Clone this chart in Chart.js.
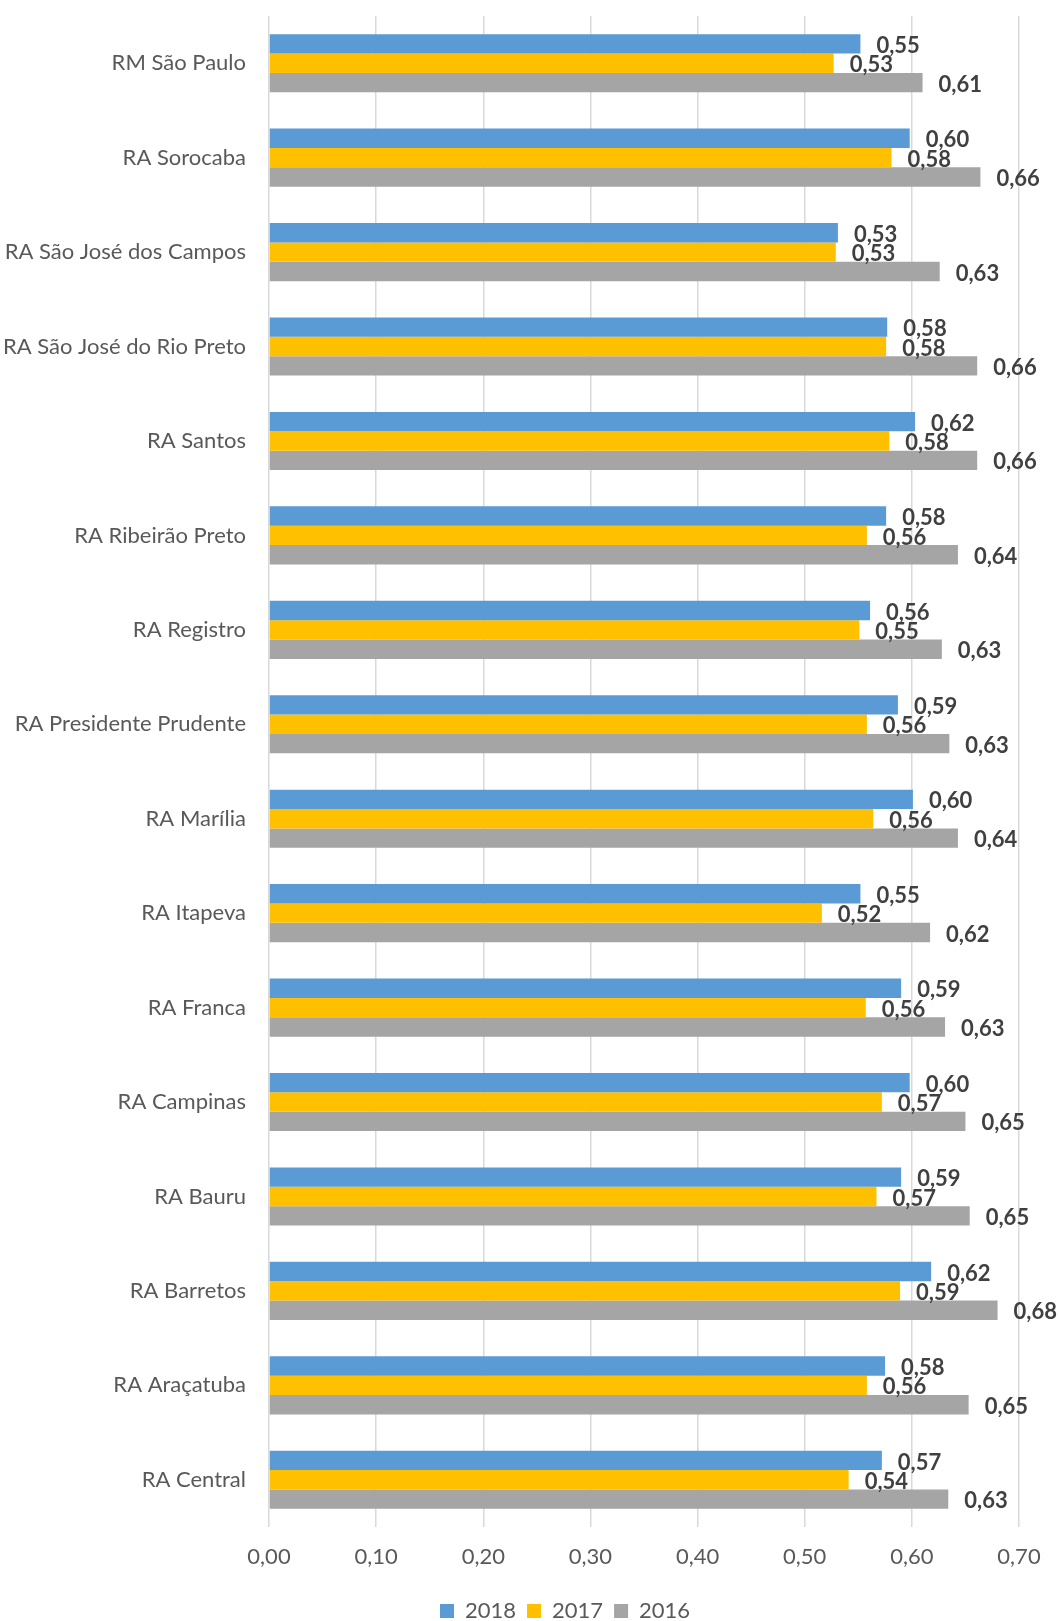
<!DOCTYPE html>
<html>
<head>
<meta charset="utf-8">
<script src="https://cdn.jsdelivr.net/npm/chart.js@4"></script>
<style>
  html, body { margin: 0; padding: 0; background: #ffffff; }
  #wrap { width: 1058px; height: 1621px; position: relative; }
</style>
</head>
<body>
<div id="wrap"><canvas id="c" width="1058" height="1621"></canvas></div>
<script>
const categories = [
  "RM São Paulo", "RA Sorocaba", "RA São José dos Campos", "RA São José do Rio Preto",
  "RA Santos", "RA Ribeirão Preto", "RA Registro", "RA Presidente Prudente",
  "RA Marília", "RA Itapeva", "RA Franca", "RA Campinas",
  "RA Bauru", "RA Barretos", "RA Araçatuba", "RA Central"
];
const seriesNames = ["2018", "2017", "2016"];
const values2018 = [0.552, 0.598, 0.531, 0.577, 0.603, 0.576, 0.561, 0.587, 0.601, 0.552, 0.590, 0.598, 0.590, 0.618, 0.575, 0.572];
const values2017 = [0.527, 0.581, 0.529, 0.576, 0.579, 0.558, 0.551, 0.558, 0.564, 0.516, 0.557, 0.572, 0.567, 0.589, 0.558, 0.541];
const values2016 = [0.610, 0.664, 0.626, 0.661, 0.661, 0.643, 0.628, 0.635, 0.643, 0.617, 0.631, 0.650, 0.654, 0.680, 0.653, 0.634];
const labels2018 = ["0,55","0,60","0,53","0,58","0,62","0,58","0,56","0,59","0,60","0,55","0,59","0,60","0,59","0,62","0,58","0,57"];
const labels2017 = ["0,53","0,58","0,53","0,58","0,58","0,56","0,55","0,56","0,56","0,52","0,56","0,57","0,57","0,59","0,56","0,54"];
const labels2016 = ["0,61","0,66","0,63","0,66","0,66","0,64","0,63","0,63","0,64","0,62","0,63","0,65","0,65","0,68","0,65","0,63"];
const xTicks = [0, 0.1, 0.2, 0.3, 0.4, 0.5, 0.6, 0.7];

const FONT = "Lato, 'Open Sans', sans-serif";
const colors = ["#5B9BD5", "#FFC000", "#A5A5A5"];
const valueSets = [values2018, values2017, values2016];
const labelSets = [labels2018, labels2017, labels2016];
const LEGEND_PAD = 11;

const dataLabelPlugin = {
  id: "dataLabels",
  afterDatasetsDraw(chart) {
    const ctx = chart.ctx;
    ctx.save();
    ctx.font = "bold 22px " + FONT;
    ctx.fillStyle = "#404040";
    ctx.textAlign = "left";
    ctx.textBaseline = "middle";
    chart.data.datasets.forEach((ds, di) => {
      const meta = chart.getDatasetMeta(di);
      meta.data.forEach((bar, i) => {
        ctx.fillText(labelSets[di][i], bar.x + 16, bar.y + 2);
      });
    });
    ctx.restore();
  }
};

const legendPlace = {
  id: "legendPlace",
  afterLayout(chart) {
    const l = chart.legend;
    if (!l) return;
    const h = l.height;
    l.top = 1611 - LEGEND_PAD - 11;
    l.bottom = l.top + h;
    l.left = 440 - LEGEND_PAD;
    l.right = 1058;
  }
};

new Chart(document.getElementById("c"), {
  type: "bar",
  data: {
    labels: categories,
    datasets: seriesNames.map((n, i) => ({
      label: n,
      data: valueSets[i],
      backgroundColor: colors[i],
      borderWidth: 0,
      barPercentage: 1.0,
      categoryPercentage: 0.615
    }))
  },
  options: {
    indexAxis: "y",
    responsive: false,
    animation: false,
    devicePixelRatio: 1,
    layout: { padding: { top: 16, right: 39, bottom: 0, left: 0 } },
    plugins: {
      legend: {
        position: "bottom",
        align: "start",
        labels: {
          boxWidth: 14, boxHeight: 14, padding: LEGEND_PAD,
          color: "#595959",
          font: { family: FONT, size: 22 }
        }
      },
      tooltip: { enabled: false }
    },
    scales: {
      x: {
        min: 0, max: 0.7,
        afterBuildTicks(scale) { scale.ticks = xTicks.map(v => ({ value: v })); },
        afterFit(scale) {
          const lh = scale.chart.legend ? scale.chart.legend.height : 0;
          scale.height = 1621 - 1527 - lh;
        },
        grid: { color: "#d9d9d9", lineWidth: 1.5, drawTicks: false },
        border: { display: false },
        ticks: {
          padding: 17,
          color: "#595959",
          font: { family: FONT, size: 22 },
          callback: v => Number(v).toFixed(2).replace(".", ",")
        }
      },
      y: {
        afterFit(scale) { scale.width = 269; scale.paddingTop = 0; scale.paddingBottom = 0; },
        grid: { display: false, drawTicks: false },
        border: { display: false },
        ticks: {
          padding: 23,
          color: "#595959",
          font: { family: FONT, size: 22 }
        }
      }
    }
  },
  plugins: [dataLabelPlugin, legendPlace]
});
</script>
</body>
</html>
